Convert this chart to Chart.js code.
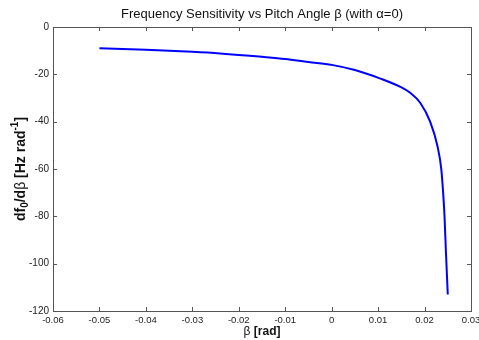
<!DOCTYPE html>
<html>
<head>
<meta charset="utf-8">
<script src="https://cdn.jsdelivr.net/npm/chart.js@4"></script>
<style>
  html, body { margin: 0; padding: 0; background: #fff; }
  #wrap { width: 479px; height: 340px; }
</style>
</head>
<body>
<div id="wrap"><canvas id="c" width="479" height="340"></canvas></div>
<script>
/* df0/dbeta vs beta */
const betaRad = [-0.05, -0.04, -0.03, -0.024, -0.015, -0.01, -0.005, 0, 0.005, 0.0105, 0.0148, 0.0169, 0.0191, 0.0212, 0.0228, 0.0236, 0.024, 0.0243, 0.0246, 0.025];
const dfdBeta = [-9.0, -9.6, -10.5, -11.2, -12.6, -13.5, -14.8, -16.0, -18.2, -21.8, -25.3, -27.8, -32.1, -40.0, -50.5, -60.0, -70.0, -80.0, -95.0, -113.0];
const xTicks = [-0.06, -0.05, -0.04, -0.03, -0.02, -0.01, 0, 0.01, 0.02, 0.03];
const yTicks = [-120, -100, -80, -60, -40, -20, 0];

const FONT = '"Liberation Sans", Arial, sans-serif';
const AXIS = '#555';

// MATLAB style: box, ticks pointing inward, titles drawn by hand
const matlabBox = {
  id: 'matlabBox',
  afterDraw(chart) {
    const ctx = chart.ctx;
    const a = chart.chartArea;
    const xs = chart.scales.x, ys = chart.scales.y;
    ctx.save();
    ctx.strokeStyle = AXIS;
    ctx.lineWidth = 1;
    ctx.strokeRect(Math.round(a.left) + 0.5, Math.round(a.top) + 0.5,
      Math.round(a.right - a.left), Math.round(a.bottom - a.top));
    ctx.beginPath();
    xTicks.forEach(v => {
      const px = Math.round(xs.getPixelForValue(v)) + 0.5;
      ctx.moveTo(px, a.bottom); ctx.lineTo(px, a.bottom - 4);
      ctx.moveTo(px, a.top); ctx.lineTo(px, a.top + 4);
    });
    yTicks.forEach(v => {
      const py = Math.round(ys.getPixelForValue(v)) + 0.5;
      ctx.moveTo(a.left, py); ctx.lineTo(a.left + 4, py);
      ctx.moveTo(a.right, py); ctx.lineTo(a.right - 4, py);
    });
    ctx.stroke();

    ctx.fillStyle = '#111';
    ctx.textAlign = 'center';
    ctx.textBaseline = 'middle';
    ctx.font = '13px ' + FONT;
    ctx.fillText('Frequency Sensitivity vs Pitch Angle \u03b2 (with \u03b1=0)', (a.left + a.right) / 2, 14);

    // x title: "β [rad]"
    const cx = (a.left + a.right) / 2;
    ctx.font = '12px ' + FONT;
    const w1 = ctx.measureText('\u03b2 ').width;
    ctx.font = 'bold 12px ' + FONT;
    const w2 = ctx.measureText('[rad]').width;
    let x0 = cx - (w1 + w2) / 2;
    ctx.textAlign = 'left';
    ctx.font = '12px ' + FONT;
    ctx.fillText('\u03b2 ', x0, 332);
    ctx.font = 'bold 12px ' + FONT;
    ctx.fillText('[rad]', x0 + w1, 332);

    // y title: "df0/dβ [Hz rad-1]" rotated
    ctx.translate(21, (a.top + a.bottom) / 2);
    ctx.rotate(-Math.PI / 2);
    const parts = [
      { t: 'df', f: 'bold 14px ', dy: 0 },
      { t: '0', f: 'bold 10px ', dy: 4 },
      { t: '/d', f: 'bold 14px ', dy: 0 },
      { t: '\u03b2', f: '14px ', dy: 0 },
      { t: ' [Hz rad', f: 'bold 14px ', dy: 0 },
      { t: '-1', f: 'bold 10px ', dy: -6 },
      { t: ']', f: 'bold 14px ', dy: 0 }
    ];
    let total = 0;
    parts.forEach(p => { ctx.font = p.f + FONT; p.w = ctx.measureText(p.t).width; total += p.w; });
    let px = -total / 2;
    parts.forEach(p => {
      ctx.font = p.f + FONT;
      ctx.fillText(p.t, px, p.dy);
      px += p.w;
    });
    ctx.restore();
  }
};

new Chart(document.getElementById('c'), {
  type: 'scatter',
  data: {
    datasets: [{
      data: betaRad.map((b, i) => ({ x: b, y: dfdBeta[i] })),
      showLine: true,
      borderColor: '#0000ff',
      borderWidth: 2,
      pointRadius: 0,
      cubicInterpolationMode: 'monotone',
      fill: false
    }]
  },
  options: {
    responsive: false,
    animation: false,
    events: [],
    layout: { padding: { top: 27, right: 8, left: 0, bottom: 0 } },
    plugins: { legend: { display: false }, tooltip: { enabled: false }, title: { display: false } },
    scales: {
      x: {
        type: 'linear',
        min: -0.06, max: 0.03,
        afterBuildTicks: s => { s.ticks = xTicks.map(v => ({ value: v })); },
        afterFit: s => { s.height = 29; s.paddingLeft = 0; s.paddingRight = 0; },
        grid: { display: false, drawTicks: false },
        border: { display: false },
        ticks: {
          padding: 4,
          maxRotation: 0,
          autoSkip: false,
          color: '#222',
          font: { family: FONT, size: 9.5 },
          callback: v => (Math.abs(v) < 1e-9 ? '0' : String(+v.toFixed(2)))
        }
      },
      y: {
        type: 'linear',
        min: -120, max: 0,
        afterBuildTicks: s => { s.ticks = yTicks.map(v => ({ value: v })); },
        afterFit: s => { s.width = 53; s.paddingTop = 0; s.paddingBottom = 0; },
        grid: { display: false, drawTicks: false },
        border: { display: false },
        ticks: {
          padding: 4,
          autoSkip: false,
          color: '#222',
          font: { family: FONT, size: 10 },
          callback: v => String(v)
        }
      }
    }
  },
  plugins: [matlabBox]
});
</script>
</body>
</html>
